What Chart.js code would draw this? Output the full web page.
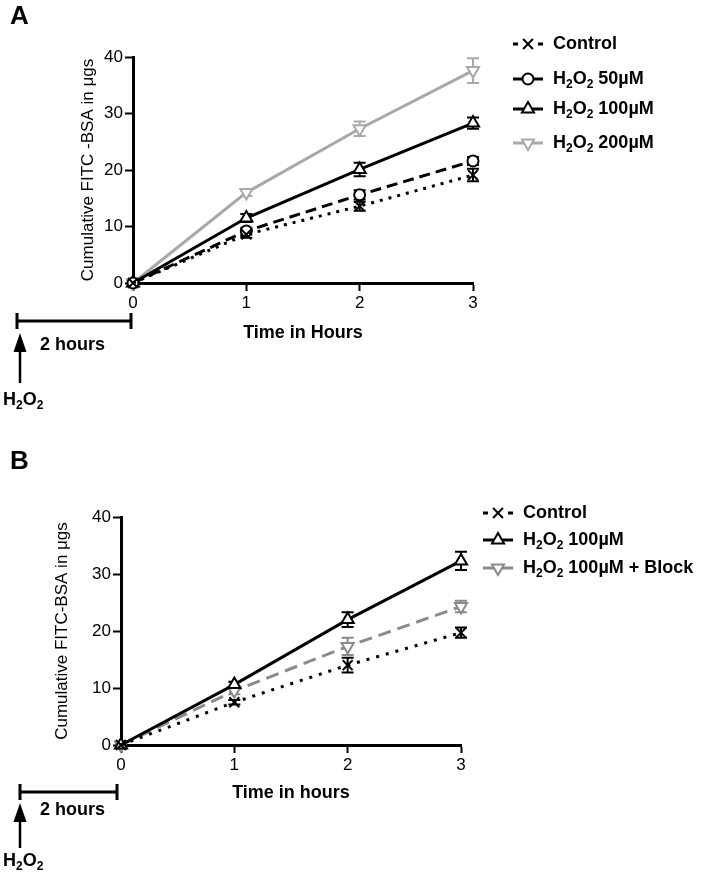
<!DOCTYPE html>
<html>
<head>
<meta charset="utf-8">
<script src="https://cdn.jsdelivr.net/npm/chart.js@4.4.0/dist/chart.umd.min.js"></script>
<style>
body { margin: 0; background: #fff; width: 703px; height: 879px; position: relative; overflow: hidden; }
.panel { position: absolute; left: 0; width: 703px; }
</style>
</head>
<body>
<div class="panel" style="top:0;height:440px"><canvas id="chartA"></canvas></div>
<div class="panel" style="top:440px;height:439px"><canvas id="chartB"></canvas></div>
<script>
const FONT = '"Liberation Sans", Arial, Helvetica, sans-serif';

const hours = [0, 1, 2, 3];

// panel A - cumulative FITC-BSA (µg)
const ctrlA = [0, 8.6, 13.6, 19.1];
const ctrlAErr = [0.3, 0.6, 0.8, 1.1];
const h50A = [0, 9.2, 15.6, 21.6];
const h50AErr = [0.3, 0.6, 0.8, 0.7];
const h100A = [0, 11.5, 20.1, 28.3];
const h100AErr = [0.3, 0.7, 1.2, 1.0];
const h200A = [0, 16.0, 27.3, 37.6];
const h200AErr = [0.3, 0.6, 1.3, 2.2];

// panel B
const ctrlB = [0, 7.5, 14.0, 19.7];
const ctrlBErr = [0.3, 0.4, 1.3, 0.9];
const h100B = [0, 10.6, 22.0, 32.3];
const h100BErr = [0.3, 0.5, 1.3, 1.6];
const blockB = [0, 9.5, 17.3, 24.3];
const blockBErr = [0.3, 0.6, 1.5, 1.0];

function pts(vals) {
    return hours.map((h, i) => ({x: h, y: vals[i]}));
}

// draws text where "_2" means subscript 2
function chemText(ctx, str, x, y, size) {
    ctx.save();
    ctx.textBaseline = 'middle';
    ctx.textAlign = 'left';
    const parts = str.split(/(_\d)/);
    parts.forEach(p => {
        if (p === '') return;
        if (p[0] === '_') {
            ctx.font = 'bold ' + Math.round(size * 0.68) + 'px ' + FONT;
            ctx.fillText(p.slice(1), x, y + size * 0.32);
            x += ctx.measureText(p.slice(1)).width;
        } else {
            ctx.font = 'bold ' + size + 'px ' + FONT;
            ctx.fillText(p, x, y);
            x += ctx.measureText(p).width;
        }
    });
    ctx.restore();
}

const errorBars = {
    id: 'errorBars',
    beforeDatasetsDraw(chart) {
        const ctx = chart.ctx;
        const xs = chart.scales.x, ys = chart.scales.y;
        chart.data.datasets.forEach(ds => {
            ctx.save();
            ctx.strokeStyle = ds.borderColor;
            ctx.lineWidth = 2;
            ds.data.forEach((p, i) => {
                const e = ds.errors[i];
                const px = xs.getPixelForValue(p.x);
                const top = ys.getPixelForValue(p.y + e);
                const bot = ys.getPixelForValue(p.y - e);
                ctx.beginPath();
                ctx.moveTo(px, top); ctx.lineTo(px, bot);
                ctx.moveTo(px - 6, top); ctx.lineTo(px + 6, top);
                ctx.moveTo(px - 6, bot); ctx.lineTo(px + 6, bot);
                ctx.stroke();
            });
            ctx.restore();
        });
    }
};

const sideLegend = {
    id: 'sideLegend',
    afterDraw(chart, args, opts) {
        const ctx = chart.ctx;
        chart.data.datasets.forEach((ds, i) => {
            const y = opts.rows[i];
            const x0 = opts.x, x1 = opts.x + 30;
            ctx.save();
            ctx.strokeStyle = ds.borderColor;
            ctx.lineWidth = 3;
            ctx.setLineDash(ds.legendDash || []);
            ctx.beginPath();
            ctx.moveTo(x0, y); ctx.lineTo(x1, y);
            ctx.stroke();
            ctx.setLineDash([]);
            ctx.fillStyle = '#fff';
            ctx.lineWidth = 2;
            Chart.helpers.drawPoint(ctx, {
                pointStyle: ds.pointStyle, radius: ds.pointRadius,
                rotation: ds.pointRotation || 0, borderWidth: 2
            }, (x0 + x1) / 2, y);
            ctx.fillStyle = '#000';
            chemText(ctx, ds.label, opts.textX, y, 18);
            ctx.restore();
        });
    }
};

const sideNotes = {
    id: 'sideNotes',
    afterDraw(chart, args, o) {
        const ctx = chart.ctx;
        ctx.save();
        ctx.fillStyle = '#000';
        ctx.strokeStyle = '#000';
        ctx.textBaseline = 'middle';
        ctx.font = 'bold 26px ' + FONT;
        ctx.fillText(o.letter, 10, o.letterY);
        // two hour bar
        ctx.lineWidth = 3;
        ctx.beginPath();
        ctx.moveTo(o.barL, o.barY); ctx.lineTo(o.barR, o.barY);
        ctx.moveTo(o.barL, o.barY - 8); ctx.lineTo(o.barL, o.barY + 8);
        ctx.moveTo(o.barR, o.barY - 8); ctx.lineTo(o.barR, o.barY + 8);
        ctx.stroke();
        // arrow
        ctx.lineWidth = 2.5;
        ctx.beginPath();
        ctx.moveTo(20, o.arrowBot); ctx.lineTo(20, o.arrowTip + 15);
        ctx.stroke();
        ctx.beginPath();
        ctx.moveTo(20, o.arrowTip);
        ctx.lineTo(13.5, o.arrowTip + 19);
        ctx.lineTo(26.5, o.arrowTip + 19);
        ctx.closePath();
        ctx.fill();
        chemText(ctx, '2 hours', 40, o.hoursY, 18);
        chemText(ctx, 'H_2O_2', 3, o.h2o2Y, 18);
        ctx.restore();
    }
};

function makeScales(xTitle, yTitle, yWidth, xHeight) {
    const tickFont = {family: FONT, size: 17};
    return {
        x: {
            type: 'linear', min: 0, max: 3,
            ticks: {stepSize: 1, color: '#000', font: tickFont, padding: 2},
            border: {color: '#000', width: 3},
            grid: {drawOnChartArea: false, tickLength: 8, tickColor: '#000', tickWidth: 2},
            title: {display: true, text: xTitle, color: '#000', padding: 0,
                    font: {family: FONT, size: 18, weight: 'bold'}},
            afterFit(s) { s.height = xHeight; }
        },
        y: {
            min: 0, max: 40,
            ticks: {stepSize: 10, color: '#000', font: tickFont, padding: 2},
            border: {color: '#000', width: 3},
            grid: {drawOnChartArea: false, tickLength: 8, tickColor: '#000', tickWidth: 2},
            title: {display: true, text: yTitle, color: '#000', padding: 0,
                    font: {family: FONT, size: 17}},
            afterFit(s) { s.width = yWidth; }
        }
    };
}

function series(label, vals, errs, color, dash, legendDash, style, radius, rot) {
    return {
        label: label, data: pts(vals), errors: errs,
        borderColor: color, backgroundColor: '#fff',
        borderWidth: 3, borderDash: dash, legendDash: legendDash,
        pointStyle: style, pointRadius: radius, pointRotation: rot || 0,
        pointBorderWidth: 2, pointBorderColor: color, pointBackgroundColor: '#fff',
        tension: 0, clip: false
    };
}

const GRAY_A = '#a8a8a8';
const GRAY_B = '#8a8a8a';

new Chart(document.getElementById('chartA'), {
    type: 'line',
    data: {
        datasets: [
            series('Control', ctrlA, ctrlAErr, '#000', [3, 6], [5, 20], 'crossRot', 7),
            series('H_2O_2 50µM', h50A, h50AErr, '#000', [11, 6], [], 'circle', 5.5),
            series('H_2O_2 100µM', h100A, h100AErr, '#000', [], [], 'triangle', 7),
            series('H_2O_2 200µM', h200A, h200AErr, GRAY_A, [], [], 'triangle', 7, 180)
        ]
    },
    options: {
        responsive: true, maintainAspectRatio: false, animation: false,
        layout: {padding: {left: 78, top: 57, right: 230, bottom: 96}},
        scales: makeScales('Time in Hours', 'Cumulative FITC -BSA in μgs', 55, 61),
        plugins: {
            legend: {display: false}, tooltip: {enabled: false},
            sideLegend: {x: 513, textX: 553, rows: [44, 79, 109, 143]},
            sideNotes: {letter: 'A', letterY: 17, barL: 17, barR: 131, barY: 321,
                        arrowTip: 333, arrowBot: 383, hoursY: 345, h2o2Y: 400}
        }
    },
    plugins: [errorBars, sideLegend, sideNotes]
});

new Chart(document.getElementById('chartB'), {
    type: 'line',
    data: {
        datasets: [
            series('Control', ctrlB, ctrlBErr, '#000', [3, 7], [5, 20], 'crossRot', 7),
            series('H_2O_2 100µM', h100B, h100BErr, '#000', [], [], 'triangle', 7),
            series('H_2O_2 100µM + Block', blockB, blockBErr, GRAY_B, [13, 7], [], 'triangle', 7, 180)
        ]
    },
    options: {
        responsive: true, maintainAspectRatio: false, animation: false,
        layout: {padding: {left: 52, top: 77, right: 242, bottom: 75}},
        scales: makeScales('Time in hours', 'Cumulative FITC-BSA in μgs', 69, 59),
        plugins: {
            legend: {display: false}, tooltip: {enabled: false},
            sideLegend: {x: 483, textX: 523, rows: [73, 100, 128]},
            sideNotes: {letter: 'B', letterY: 22, barL: 20, barR: 117, barY: 352,
                        arrowTip: 363, arrowBot: 408, hoursY: 370, h2o2Y: 421}
        }
    },
    plugins: [errorBars, sideLegend, sideNotes]
});
</script>
</body>
</html>
